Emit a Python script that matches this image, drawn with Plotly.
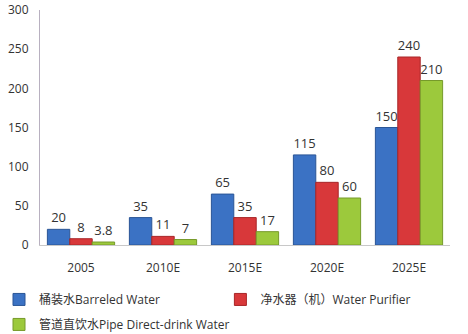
import plotly.graph_objects as go

categories = ["2005", "2010E", "2015E", "2020E", "2025E"]
barreled = [20, 35, 65, 115, 150]
purifier = [8, 11, 35, 80, 240]
pipe = [3.8, 7, 17, 60, 210]
series_names = ["桶装水Barreled Water", "净水器（机）Water Purifier", "管道直饮水Pipe Direct-drink Water"]
colors = ["#3b72c4", "#d8383a", "#9cc93c"]
line_colors = ["#2a5596", "#a82628", "#769a2a"]
legend_ids = ["legend", "legend2", "legend"]

fig = go.Figure()
for i, (name, vals, c, lc, lg) in enumerate(zip(series_names, [barreled, purifier, pipe], colors, line_colors, legend_ids)):
    fig.add_trace(go.Bar(
        x=categories, y=vals, name=name, legend=lg, legendgroup=f"g{i}",
        marker=dict(color=c, line=dict(color=lc, width=1)),
        text=[str(v) for v in vals], textposition="outside",
        textfont=dict(size=13, color="#333333"),
        cliponaxis=False,
    ))

font_family = "Open Sans, Noto Sans CJK SC, sans-serif"
leg_common = dict(orientation="v", yanchor="top", xanchor="left",
                  font=dict(size=12, color="#333333"), itemwidth=30,
                  tracegroupgap=6, bgcolor="rgba(0,0,0,0)")
fig.update_layout(
    width=468, height=334,
    margin=dict(l=40, r=18, t=10, b=89, autoexpand=False),
    paper_bgcolor="white", plot_bgcolor="white",
    barmode="group", bargap=0.18, bargroupgap=0,
    font=dict(family=font_family, size=12, color="#333333"),
    showlegend=True,
    legend=dict(x=-0.1, y=-0.17, **leg_common),
    legend2=dict(x=0.44, y=-0.17, **leg_common),
)
fig.update_yaxes(range=[0, 300], dtick=50, showgrid=False, showline=True,
                 linecolor="#b8b0c0", linewidth=1, ticks="", zeroline=False,
                 ticklabelstandoff=8, tickfont=dict(size=12, color="#333333"))
fig.update_xaxes(showgrid=False, showline=True, linecolor="#c8c8c8", linewidth=1,
                 ticks="", ticklabelstandoff=12, tickfont=dict(size=12, color="#333333"))

fig.write_html("out.html")
